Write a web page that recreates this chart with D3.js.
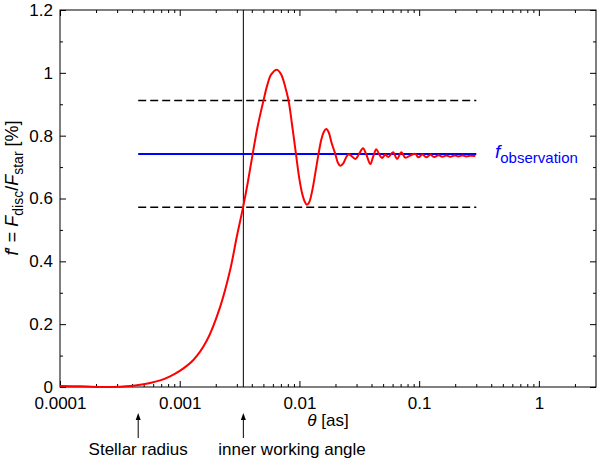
<!DOCTYPE html>
<html>
<head>
<meta charset="utf-8">
<script src="https://cdnjs.cloudflare.com/ajax/libs/d3/7.8.5/d3.min.js"></script>
<style>
  body { margin: 0; background: #fff; }
  svg { display: block; font-family: "Liberation Sans", Arial, sans-serif; }
  .tick text { font-size: 17px; fill: #000; }
</style>
</head>
<body>
<svg class="chart" width="598" height="460"></svg>
<script>
// angular separation (as) and flux ratio (%)
var theta = [1.0e-4, 1.47e-4, 2.62e-4, 3.18e-4, 3.85e-4, 4.67e-4, 5.66e-4, 6.86e-4, 8.31e-4, 1.008e-3,
             1.30e-3, 1.685e-3, 2.18e-3, 2.64e-3, 3.00e-3, 3.39e-3, 3.70e-3, 4.07e-3, 4.48e-3, 5.01e-3,
             5.38e-3, 5.81e-3, 6.49e-3, 7.04e-3, 7.61e-3, 8.11e-3, 8.71e-3, 9.35e-3, 9.96e-3, 1.055e-2,
             1.107e-2, 1.155e-2, 1.207e-2, 1.279e-2, 1.356e-2, 1.444e-2, 1.522e-2, 1.597e-2, 1.675e-2, 1.758e-2,
             1.863e-2, 1.992e-2, 2.09e-2, 2.193e-2, 2.323e-2, 2.462e-2, 2.573e-2, 2.711e-2, 2.929e-2, 3.132e-2,
             3.396e-2, 3.618e-2, 3.909e-2, 4.141e-2, 4.386e-2, 4.648e-2, 4.896e-2, 5.218e-2, 5.527e-2, 6.05e-2,
             6.535e-2, 7.10e-2, 7.665e-2, 8.44e-2, 9.29e-2, 9.84e-2, 0.1064, 0.1148, 0.124, 0.134,
             0.145, 0.156, 0.169, 0.182, 0.197, 0.213, 0.230, 0.248, 0.268, 0.295];
var flux  = [0.003, 0.002, 0.0, 0.001, 0.003, 0.007, 0.013, 0.021, 0.034, 0.052,
             0.086, 0.148, 0.256, 0.373, 0.479, 0.574, 0.65, 0.742, 0.83, 0.912,
             0.96, 0.995, 1.01, 0.995, 0.955, 0.912, 0.83, 0.742, 0.665, 0.615,
             0.59, 0.58, 0.588, 0.625, 0.68, 0.742, 0.787, 0.812, 0.821, 0.81,
             0.775, 0.742, 0.715, 0.704, 0.712, 0.732, 0.741, 0.736, 0.726, 0.74,
             0.760, 0.74, 0.710, 0.735, 0.757, 0.74, 0.729, 0.739, 0.732, 0.747,
             0.726, 0.747, 0.73, 0.737, 0.742, 0.731, 0.740, 0.731, 0.739, 0.732,
             0.738, 0.733, 0.737, 0.733, 0.737, 0.734, 0.737, 0.734, 0.736, 0.735];

var fObservation = 0.742,
    fUpper = 0.912,
    fLower = 0.572,
    levelRange = [4.5e-4, 0.3];

var stellarRadius = 4.5e-4,
    innerWorkingAngle = 3.4e-3;

var xMajor = [1e-4, 1e-3, 1e-2, 1e-1, 1],
    xLabels = ["0.0001", "0.001", "0.01", "0.1", "1"];
var yMajor = [0, 0.2, 0.4, 0.6, 0.8, 1, 1.2],
    yLabels = ["0", "0.2", "0.4", "0.6", "0.8", "1", "1.2"],
    yMinor = [0.1, 0.3, 0.5, 0.7, 0.9, 1.1];

var plotLeft = 60, plotRight = 596, plotTop = 10, plotBottom = 387;

var x = d3.scaleLog().domain([1e-4, 3]).range([plotLeft, plotRight]);
var y = d3.scaleLinear().domain([0, 1.2]).range([plotBottom, plotTop]);

var xMinor = [];
xMajor.forEach(function(d) {
  for (var k = 2; k <= 9; k++) if (d * k < 3) xMinor.push(d * k);
});

var svg = d3.select(".chart");

// ticks, pointing inward on all four sides
function addAxis(axis, tr, cls) {
  var g = svg.append("g").attr("class", cls).attr("transform", tr).call(axis);
  g.select(".domain").remove();
  g.selectAll(".tick line").attr("stroke", "#000");
  return g;
}

addAxis(d3.axisBottom(x).tickValues(xMajor).tickSize(-6).tickPadding(10)
        .tickFormat(function(d, i) { return xLabels[i]; }), "translate(0," + plotBottom + ")", "x axis");
addAxis(d3.axisBottom(x).tickValues(xMinor).tickSize(-3).tickFormat(""), "translate(0," + plotBottom + ")", "x minor");
addAxis(d3.axisTop(x).tickValues(xMajor).tickSize(-6).tickFormat(""), "translate(0," + plotTop + ")", "x2 axis");
addAxis(d3.axisTop(x).tickValues(xMinor).tickSize(-3).tickFormat(""), "translate(0," + plotTop + ")", "x2 minor");

addAxis(d3.axisLeft(y).tickValues(yMajor).tickSize(-6).tickPadding(7)
        .tickFormat(function(d, i) { return yLabels[i]; }), "translate(" + plotLeft + ",0)", "y axis");
addAxis(d3.axisLeft(y).tickValues(yMinor).tickSize(-3).tickFormat(""), "translate(" + plotLeft + ",0)", "y minor");
addAxis(d3.axisRight(y).tickValues(yMajor).tickSize(-6).tickFormat(""), "translate(" + plotRight + ",0)", "y2 axis");
addAxis(d3.axisRight(y).tickValues(yMinor).tickSize(-3).tickFormat(""), "translate(" + plotRight + ",0)", "y2 minor");

// frame
svg.append("rect")
    .attr("x", plotLeft).attr("y", plotTop)
    .attr("width", plotRight - plotLeft).attr("height", plotBottom - plotTop)
    .attr("fill", "none").attr("stroke", "#000").attr("stroke-width", 1);

// inner working angle
svg.append("line")
    .attr("x1", x(innerWorkingAngle)).attr("x2", x(innerWorkingAngle))
    .attr("y1", plotTop).attr("y2", plotBottom)
    .attr("stroke", "#000").attr("stroke-width", 1);

// dashed bounds
[fUpper, fLower].forEach(function(v) {
  svg.append("line")
      .attr("x1", x(levelRange[0])).attr("x2", x(levelRange[1]))
      .attr("y1", y(v)).attr("y2", y(v))
      .attr("stroke", "#000").attr("stroke-width", 1.5)
      .attr("stroke-dasharray", "8,4");
});

// observation level
svg.append("line")
    .attr("x1", x(levelRange[0])).attr("x2", x(levelRange[1]))
    .attr("y1", y(fObservation)).attr("y2", y(fObservation))
    .attr("stroke", "#0000ff").attr("stroke-width", 2);

// model curve
var line = d3.line()
    .x(function(d, i) { return x(theta[i]); })
    .y(function(d) { return y(d); })
    .curve(d3.curveCatmullRom.alpha(0.5));

svg.append("path")
    .datum(flux)
    .attr("d", line)
    .attr("fill", "none")
    .attr("stroke", "#ff0000")
    .attr("stroke-width", 2);

// f_observation label
var obs = svg.append("text")
    .attr("x", 495).attr("y", y(fObservation) + 4)
    .attr("fill", "#0000ff")
    .style("font-size", "19px");
obs.append("tspan").style("font-style", "italic").text("f");
obs.append("tspan").attr("dy", 5).style("font-size", "15px").text("observation");

// axis titles
var xt = svg.append("text")
    .attr("x", 328).attr("y", 426)
    .style("text-anchor", "middle")
    .style("font-size", "17px");
xt.append("tspan").style("font-style", "italic").text("θ");
xt.append("tspan").text(" [as]");

var yt = svg.append("text")
    .attr("transform", "translate(18," + 188 + ") rotate(-90)")
    .style("text-anchor", "middle")
    .style("font-size", "18px");
yt.append("tspan").style("font-style", "italic").text("f");
yt.append("tspan").text("′ = ");
yt.append("tspan").style("font-style", "italic").text("F");
yt.append("tspan").attr("dy", 5).style("font-size", "14px").text("disc");
yt.append("tspan").attr("dy", -5).text("/");
yt.append("tspan").style("font-style", "italic").text("F");
yt.append("tspan").attr("dy", 5).style("font-size", "14px").text("star");
yt.append("tspan").attr("dy", -5).text(" [%]");

// arrows below the axis
function arrow(xv, label, anchor, dx) {
  var px = x(xv);
  svg.append("line")
      .attr("x1", px).attr("x2", px)
      .attr("y1", 438).attr("y2", 417)
      .attr("stroke", "#000").attr("stroke-width", 1);
  svg.append("path")
      .attr("d", "M" + px + ",413 L" + (px - 2.5) + ",420 L" + (px + 2.5) + ",420 Z")
      .attr("fill", "#000");
  svg.append("text")
      .attr("x", px + dx).attr("y", 455)
      .style("text-anchor", anchor)
      .style("font-size", "17px")
      .text(label);
}
arrow(stellarRadius, "Stellar radius", "middle", 0);
arrow(innerWorkingAngle, "inner working angle", "start", -25);
</script>
</body>
</html>
